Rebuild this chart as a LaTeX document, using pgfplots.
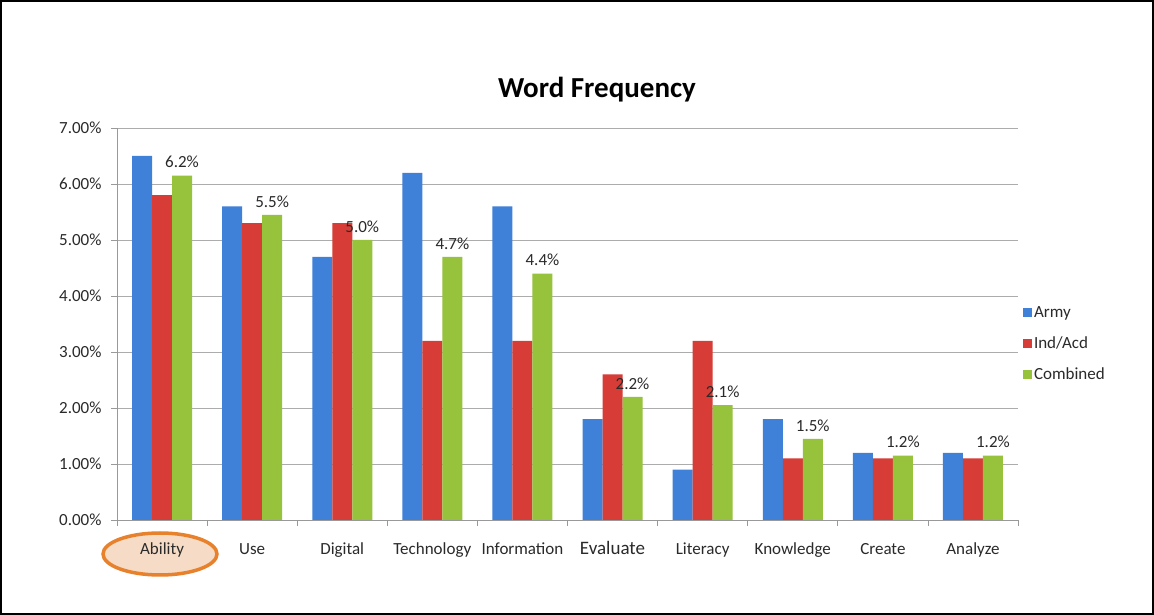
\documentclass[border=0pt]{standalone}
\usepackage{pgfplots}
\pgfplotsset{compat=1.18}
\usepackage{pgfplotstable}
\usepackage{fontspec}
\setmainfont{Carlito}
\definecolor{armyc}{HTML}{3F80D8}
\definecolor{indc}{HTML}{D73D36}
\definecolor{combc}{HTML}{96C33B}
\definecolor{txt}{HTML}{2A2A2A}
\definecolor{ringc}{HTML}{E8812C}
\definecolor{ringf}{HTML}{F6DCC6}
\pgfplotstableread{
x army ind comb lab
0 6.5 5.8 6.15 6.2
1 5.6 5.3 5.45 5.5
2 4.7 5.3 5.0 5.0
3 6.2 3.2 4.7 4.7
4 5.6 3.2 4.4 4.4
5 1.8 2.6 2.2 2.2
6 0.9 3.2 2.05 2.1
7 1.8 1.1 1.45 1.5
8 1.2 1.1 1.15 1.2
9 1.2 1.1 1.15 1.2
}\data
\begin{document}
\begin{tikzpicture}[x=1pt,y=1pt]
\useasboundingbox (0,0) rectangle (1154,615);
\fill[white] (0,0) rectangle (1154,615);
\draw[line width=2pt] (1,1) rectangle (1153,614);
\draw[line width=3.5pt, draw=ringc, fill=ringf] (160,61) ellipse (57 and 21);
\node[font=\fontsize{29}{29}\selectfont\bfseries, text=black] at (597,525) {Word Frequency};
\begin{axis}[
  at={(117pt,95pt)}, anchor=south west,
  scale only axis, width=901pt, height=392pt,
  ybar=0pt, bar width=20pt,
  xmin=-0.5, xmax=9.5, ymin=0, ymax=7,
  axis lines*=left,
  axis line style={draw=gray!80, line width=0.8pt},
  xtick={0,...,9},
  xticklabels={Ability,Use,Digital,Technology,Information,{\fontsize{19}{19}\selectfont Evaluate},Literacy,Knowledge,Create,Analyze},
  minor xtick={-0.5,0.5,...,9.5},
  major x tick style={draw=none},
  ytick={0,...,7},
  yticklabels={0.00\%,1.00\%,2.00\%,3.00\%,4.00\%,5.00\%,6.00\%,7.00\%},
  tick align=outside,
  tick style={draw=gray!80, line width=0.8pt},
  major tick length=6pt, minor tick length=6pt,
  ymajorgrids, grid style={draw=gray!65, line width=0.8pt},
  ticklabel style={font=\fontsize{17}{17}\selectfont, text=txt},
  xticklabel style={yshift=-13pt, text height=12pt, text depth=4pt},
  yticklabel style={xshift=-6pt},
  legend style={at={(1.002,0.449)}, anchor=west, draw=none, fill=none,
    font=\fontsize{17}{17}\selectfont, text=txt, row sep=14pt},
  legend cell align=left,
  legend image code/.code={\fill[#1] (0pt,-4pt) rectangle (9pt,5pt);},
]
\addplot[draw=none, fill=armyc] table[x=x,y=army]{\data};
\addlegendentry{Army}
\addplot[draw=none, fill=indc] table[x=x,y=ind]{\data};
\addlegendentry{Ind/Acd}
\addplot[draw=none, fill=combc,
  point meta=explicit symbolic,
  nodes near coords={\pgfplotspointmeta\%},
  nodes near coords style={font=\fontsize{17}{17}\selectfont, text=txt, anchor=south, yshift=4pt}
  ] table[x=x,y=comb,meta=lab]{\data};
\addlegendentry{Combined}
\end{axis}
\end{tikzpicture}
\end{document}
